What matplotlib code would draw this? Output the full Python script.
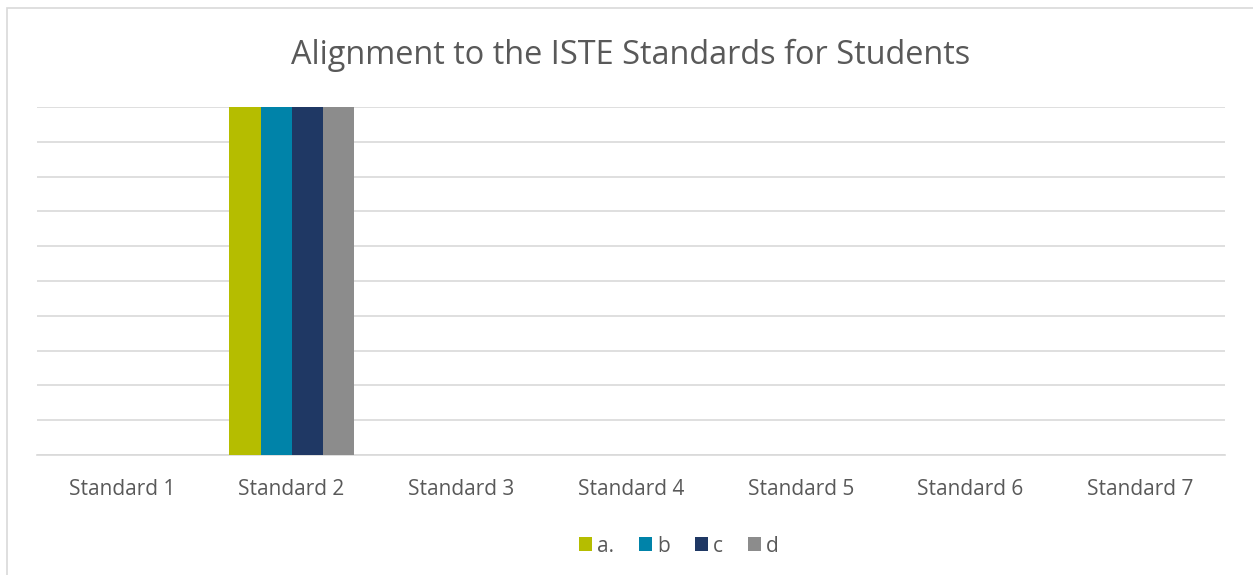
import matplotlib
matplotlib.use("Agg")
import matplotlib.pyplot as plt
import numpy as np
from matplotlib.patches import Rectangle

categories = ["Standard 1", "Standard 2", "Standard 3", "Standard 4", "Standard 5", "Standard 6", "Standard 7"]
series_names = ["a.", "b", "c", "d"]
series_values = {
    "a.": [0, 1, 0, 0, 0, 0, 0],
    "b": [0, 1, 0, 0, 0, 0, 0],
    "c": [0, 1, 0, 0, 0, 0, 0],
    "d": [0, 1, 0, 0, 0, 0, 0],
}
colors = ["#B5BD00", "#0083A9", "#1F3864", "#8C8C8C"]

plt.rcParams['font.family'] = ['Open Sans', 'DejaVu Sans']

W, H = 1253, 575
fig = plt.figure(figsize=(W/100, H/100), dpi=100)
fig.patch.set_facecolor("white")

# outer border
fig.patches.append(Rectangle((7/W, -0.01), 1.2, (H-8)/H + 0.01, transform=fig.transFigure,
                             fill=False, edgecolor="#D9D9D9", linewidth=1.2))

ax = fig.add_axes([37/W, 1-455/H, (1225-37)/W, (455-107)/H])
x = np.arange(len(categories))
bw = 0.183
n = len(series_names)
for i, (name, c) in enumerate(zip(series_names, colors)):
    offs = (i - (n-1)/2) * bw
    ax.bar(x + offs, series_values[name], width=bw, color=c, label=name, zorder=3, linewidth=0)

ax.set_xlim(-0.5, len(categories)-0.5)
ax.set_ylim(0, 1)
ax.set_yticks(np.arange(0, 1.01, 0.1))
ax.yaxis.grid(True, color="#D9D9D9", linewidth=1.2, zorder=0)
ax.tick_params(axis='y', left=False, labelleft=False)
ax.tick_params(axis='x', bottom=False, labelsize=15, labelcolor="#595959", pad=14)
ax.set_xticks(x)
ax.set_xticklabels(categories)
for s in ["top", "right", "left"]:
    ax.spines[s].set_visible(False)
ax.spines["bottom"].set_color("#D9D9D9")
ax.spines["bottom"].set_linewidth(1.2)

fig.text(631/W, 1-55/H, "Alignment to the ISTE Standards for Students", ha="center", va="center",
         fontsize=23.4, color="#595959")

leg = fig.legend(loc="center", bbox_to_anchor=(679/W, 1-546/H), ncol=4, frameon=False,
                 fontsize=15, handlelength=0.62, handleheight=0.62, handletextpad=0.25,
                 columnspacing=1.2, labelcolor="#595959", borderpad=0, borderaxespad=0)

fig.savefig("out.png", dpi=100, facecolor="white")
